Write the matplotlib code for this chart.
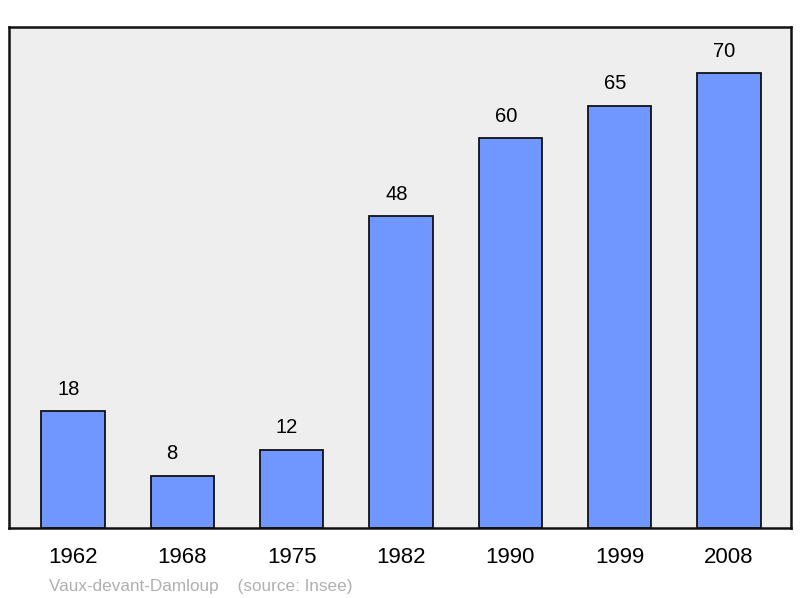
import matplotlib
matplotlib.use("Agg")
import matplotlib.pyplot as plt

years = ["1962", "1968", "1975", "1982", "1990", "1999", "2008"]
population = [18, 8, 12, 48, 60, 65, 70]

plt.rcParams['font.family'] = ['Liberation Sans', 'DejaVu Sans']

fig = plt.figure(figsize=(8, 5.98), dpi=100)
ax = fig.add_axes([0.01125, 0.1171, 0.9775, 0.8378])
ax.set_facecolor('#eeeeee')

w = 0.58
x = range(len(years))
ax.bar(x, population, width=w, color='#7097ff', edgecolor='#111111', linewidth=1.3, zorder=2)

# labels start a fixed distance in from the bar's left edge
for i, v in zip(x, population):
    ax.annotate(str(v), (i - w / 2, v), xytext=(11.5, 9), textcoords='offset points',
                ha='left', va='bottom', fontsize=14.5)

ax.set_xlim(-0.584, 6.566)
ax.set_ylim(0, 77.1)
ax.set_xticks(list(x))
ax.set_xticklabels(years, fontsize=16)
ax.tick_params(axis='x', length=0, pad=14)
ax.set_yticks([])
for s in ax.spines.values():
    s.set_linewidth(1.8)
    s.set_color('#111111')

fig.text(0.061, 0.012, "Vaux-devant-Damloup    (source: Insee)", color='#b0b0b0', fontsize=12.3)

fig.savefig("out.png", dpi=100)
